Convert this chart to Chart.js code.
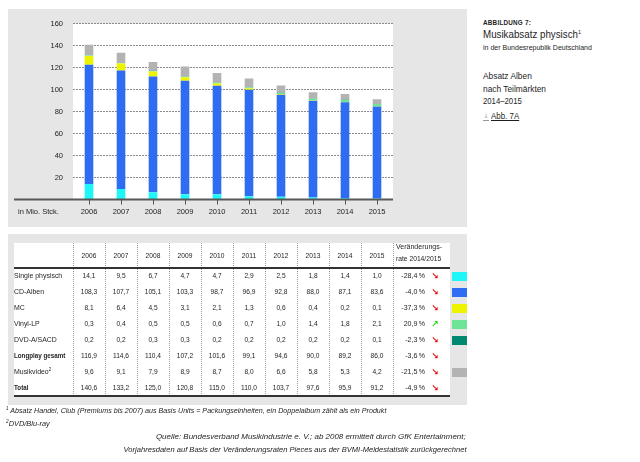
<!DOCTYPE html>
<html><head><meta charset="utf-8">
<script src="https://cdn.jsdelivr.net/npm/chart.js@4"></script>
<style>
html,body{margin:0;padding:0;background:#fff;width:640px;height:462px;overflow:hidden;
 font-family:"Liberation Sans",Arial,sans-serif;color:#1e1e1e}
.abs{position:absolute;white-space:nowrap;transform-origin:left center}
#chartPanel{position:absolute;left:8px;top:9px;width:459px;height:218px;background:#e6e6e6}
#c{position:absolute;left:0;top:0}
#unit{left:18px;top:207px;font-size:7.5px;line-height:10px}
#tablePanel{position:absolute;left:8px;top:234px;width:459px;height:171px;background:#e6e6e6}
#tableWhite{position:absolute;left:14px;top:243px;width:436px;height:153px;background:#fff}
.cell{position:absolute;white-space:nowrap;font-size:7.8px;line-height:16px;height:16px}
.vline{position:absolute;width:0;border-left:1px dotted #9a9a9a}
.hline{position:absolute;height:1.5px;background:#333}
.sw{position:absolute;width:15px;height:9px}
.fn{font-style:italic;font-size:7.8px;line-height:10px}
.rt{transform-origin:right center}
</style></head>
<body>
<div id="chartPanel"><canvas id="c" width="459" height="218"></canvas></div>
<div class="abs" id="unit">in Mio. Stck.</div>

<div class="abs" style="left:483px;top:18px;font-size:6.8px;font-weight:bold;letter-spacing:0.25px;line-height:9px;transform:scaleX(0.93)">ABBILDUNG 7:</div>
<div class="abs" style="left:483px;top:28px;font-size:10.5px;line-height:12px;transform:scaleX(0.93)">Musikabsatz physisch<sup style="font-size:6px;vertical-align:4px;line-height:0">1</sup></div>
<div class="abs" style="left:483px;top:43px;font-size:7.8px;line-height:10px;transform:scaleX(0.9)">in der Bundesrepublik Deutschland</div>
<div class="abs" style="left:483px;top:70px;font-size:8.8px;line-height:12px;transform:scaleX(0.95)">Absatz Alben</div>
<div class="abs" style="left:483px;top:83px;font-size:8.8px;line-height:12px;transform:scaleX(0.95)">nach Teilmärkten</div>
<div class="abs" style="left:483px;top:95px;font-size:8.8px;line-height:12px;transform:scaleX(0.88)">2014–2015</div>
<div class="abs" style="left:483px;top:110px;font-size:8.8px;line-height:13px"><span style="display:inline-block;width:6px;height:7px;border-bottom:1px solid #999;color:#999;font-family:'DejaVu Sans';font-size:6px;line-height:6px;text-align:center;vertical-align:1px">↓</span> <span style="display:inline-block;text-decoration:underline;transform:scaleX(0.9);transform-origin:left center">Abb. 7A</span></div>

<div id="tablePanel"></div>
<div id="tableWhite"></div>
<div id="tbl"></div>

<div class="abs fn" style="left:6px;top:406px;transform:scaleX(0.915)"><sup style="font-size:5px;vertical-align:3px;line-height:0">1</sup> Absatz Handel, Club (Premiums bis 2007) aus Basis Units = Packungseinheiten, ein Doppelalbum zählt als ein Produkt</div>
<div class="abs fn" style="left:6px;top:419px;transform:scaleX(0.95)"><sup style="font-size:5px;vertical-align:3px;line-height:0">2</sup>DVD/Blu-ray</div>
<div class="abs fn rt" style="right:174px;top:432px;transform:scaleX(1.02)">Quelle: Bundesverband Musikindustrie e. V.; ab 2008 ermittelt durch GfK Entertainment;</div>
<div class="abs fn rt" style="right:174px;top:445px;transform:scaleX(0.97)">Vorjahresdaten auf Basis der Veränderungsraten Pieces aus der BVMI-Meldestatistik zurückgerechnet</div>

<script>
// ---- data ----
const years = ['2006','2007','2008','2009','2010','2011','2012','2013','2014','2015'];
const singlePhysisch = [14.1, 9.5, 6.7, 4.7, 4.7, 2.9, 2.5, 1.8, 1.4, 1.0];
const cdAlben        = [108.3, 107.7, 105.1, 103.3, 98.7, 96.9, 92.8, 88.0, 87.1, 83.6];
const mc             = [8.1, 6.4, 4.5, 3.1, 2.1, 1.3, 0.6, 0.4, 0.2, 0.1];
const vinylLP        = [0.3, 0.4, 0.5, 0.5, 0.6, 0.7, 1.0, 1.4, 1.8, 2.1];
const dvdASacd       = [0.2, 0.2, 0.3, 0.3, 0.2, 0.2, 0.2, 0.2, 0.2, 0.1];
const longplayGesamt = [116.9, 114.6, 110.4, 107.2, 101.6, 99.1, 94.6, 90.0, 89.2, 86.0];
const musikvideo     = [9.6, 9.1, 7.9, 8.9, 8.7, 8.0, 6.6, 5.8, 5.3, 4.2];
const total          = [140.6, 133.2, 125.0, 120.8, 115.0, 110.0, 103.7, 97.6, 95.9, 91.2];
const changeRates    = [-28.4, -4.0, -37.3, 20.9, -2.3, -3.6, -21.5, -4.9];
const rowLabels      = ['Single physisch','CD-Alben','MC','Vinyl-LP','DVD-A/SACD','Longplay gesamt','Musikvideo²','Total'];
const yTicks         = [20, 40, 60, 80, 100, 120, 140, 160];

const colSingle = '#1ff6f8', colCD = '#2f6cf4', colMC = '#eef400', colVinyl = '#6ee596', colDVD = '#00896e', colVideo = '#b3b3b3';

// ---- chart ----
Chart.defaults.font.family = '"Liberation Sans", Arial, sans-serif';
Chart.defaults.color = '#222';
const bgPlugin = {
  id: 'bg',
  beforeDraw(chart) {
    const a = chart.chartArea, ctx = chart.ctx;
    ctx.save(); ctx.fillStyle = '#fff';
    ctx.fillRect(a.left, a.top, a.right - a.left, a.bottom - a.top);
    ctx.restore();
  },
  afterDatasetsDraw(chart) {
    const a = chart.chartArea, ctx = chart.ctx;
    const y = chart.scales.y.getPixelForValue(0);
    ctx.save(); ctx.fillStyle = '#585858';
    ctx.fillRect(6, y - 1, a.right - 6, 2);
    ctx.restore();
  }
};
new Chart(document.getElementById('c'), {
  type: 'bar',
  data: {
    labels: years,
    datasets: [
      {label: 'Single physisch', data: singlePhysisch, backgroundColor: colSingle},
      {label: 'CD-Alben', data: cdAlben, backgroundColor: colCD},
      {label: 'MC', data: mc, backgroundColor: colMC},
      {label: 'Vinyl-LP', data: vinylLP, backgroundColor: colVinyl},
      {label: 'DVD-A/SACD', data: dvdASacd, backgroundColor: colDVD},
      {label: 'Musikvideo²', data: musikvideo, backgroundColor: colVideo}
    ]
  },
  options: {
    responsive: false, animation: false,
    layout: {padding: {left: 0, right: 74, top: 11, bottom: 0}},
    plugins: {legend: {display: false}, tooltip: {enabled: false}},
    datasets: {bar: {categoryPercentage: 1, barPercentage: 0.27, borderWidth: 0}},
    scales: {
      x: {
        stacked: true, offset: true,
        grid: {offset: false, drawOnChartArea: false, drawTicks: true, tickLength: 5, color: '#555', lineWidth: 1},
        border: {display: false},
        ticks: {padding: 3, font: {size: 7.5}, maxRotation: 0, autoSkip: false},
        afterFit(s) { s.height = 27.5; }
      },
      y: {
        stacked: true, min: 0, max: 160,
        afterBuildTicks(s) { s.ticks = yTicks.map(v => ({value: v})); },
        ticks: {padding: 10, font: {size: 7.5}},
        grid: {drawTicks: false, color: '#8a8a8a', lineWidth: 1},
        border: {display: false, dash: [2, 1]},
        afterFit(s) { s.width = 65; }
      }
    }
  },
  plugins: [bgPlugin]
});

// ---- table ----
const tbl = document.getElementById('tbl');
function add(cls, style, html) {
  const d = document.createElement('div');
  d.className = cls; d.setAttribute('style', style); d.innerHTML = html || '';
  tbl.appendChild(d); return d;
}
const fmt = v => v.toFixed(1).replace('.', ',');
const rows = [singlePhysisch, cdAlben, mc, vinylLP, dvdASacd, longplayGesamt, musikvideo, total];
const swatches = [colSingle, colCD, colMC, colVinyl, colDVD, null, colVideo, null];
const colLeft = i => 73 + 32 * i;
const numScale = 'transform:scaleX(0.85);transform-origin:center center;';
// header
years.forEach((y, i) => add('cell', `left:${colLeft(i)}px;top:248px;width:32px;text-align:center;${numScale}`, y));
add('cell', 'left:396px;top:239px;transform:scaleX(0.9);transform-origin:left center', 'Veränderungs-');
add('cell', 'left:396px;top:251px;transform:scaleX(0.86);transform-origin:left center', 'rate 2014/2015');
// rows
rows.forEach((arr, r) => {
  const top = 268 + 16 * r;
  const bold = (r === 5 || r === 7);
  let lab = rowLabels[r].replace('²', '<sup style="font-size:5px;vertical-align:3px;line-height:0">2</sup>');
  add('cell', `left:14px;top:${top}px;${bold ? 'font-weight:bold;transform:scaleX(0.8);' : 'transform:scaleX(0.89);'}transform-origin:left center`, lab);
  arr.forEach((v, i) => add('cell', `left:${colLeft(i)}px;top:${top}px;width:32px;text-align:center;${numScale}`, fmt(v)));
  const ch = changeRates[r];
  add('cell', `left:393px;top:${top}px;width:32px;text-align:right;transform:scaleX(0.9);transform-origin:right center`, fmt(ch) + '\u2009%');
  const up = ch > 0;
  add('cell', `left:431px;top:${top}px;font-family:'DejaVu Sans';font-size:9px;font-weight:bold;color:${up ? '#22dd22' : '#ee1111'}`, up ? '↗' : '↘');
  if (swatches[r]) add('sw', `left:452px;top:${top + 3.5}px;background:${swatches[r]}`);
});
// lines
for (let i = 0; i <= years.length; i++) add('vline', `left:${colLeft(i)}px;top:243px;height:153px`);
add('hline', 'left:14px;top:267px;width:436px');
add('hline', 'left:14px;top:395px;width:436px');
</script>
</body></html>
